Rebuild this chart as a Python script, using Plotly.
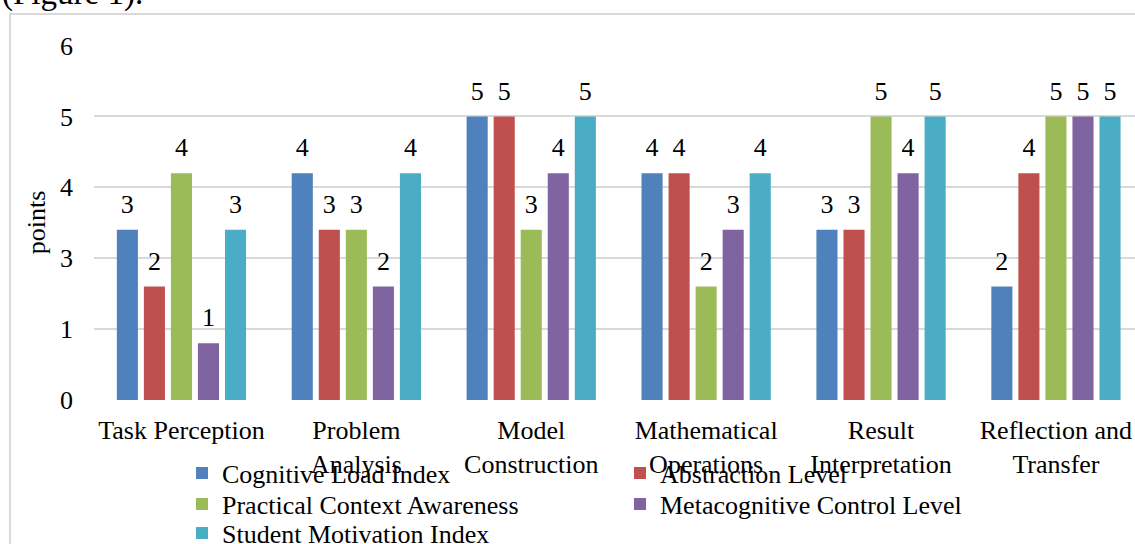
import plotly.graph_objects as go

# Stages of the modelling task (x categories)
categories = [
    "Task Perception",
    "Problem<br>Analysis",
    "Model<br>Construction",
    "Mathematical<br>Operations",
    "Result<br>Interpretation",
    "Reflection and<br>Transfer",
]

# Scores per indicator, one value per stage
cognitive_load = [3, 4, 5, 4, 3, 2]
abstraction = [2, 3, 5, 4, 3, 4]
practical_context = [4, 3, 3, 2, 5, 5]
metacognitive = [1, 2, 4, 3, 4, 5]
motivation = [3, 4, 5, 4, 5, 5]

series_names = [
    "Cognitive Load Index",
    "Abstraction Level",
    "Practical Context Awareness",
    "Metacognitive Control Level",
    "Student Motivation Index",
]
series_values = [cognitive_load, abstraction, practical_context, metacognitive, motivation]
colors = ["#4F81BD", "#C0504D", "#9BBB59", "#8064A2", "#4BACC6"]

# Value axis: major unit 1.25 with whole-number labels
y_tickvals = [0, 1.25, 2.5, 3.75, 5, 6.25]
y_ticktext = ["0", "1", "3", "4", "5", "6"]

FONT = "Liberation Serif"
FS = 26

W, H = 1135, 544
ML, MR, MT, MB = 94, 0, 45, 144
PW = W - ML - MR
PH = H - MT - MB

legend_ids = ["legend", "legend2", "legend3", "legend4", "legend5"]

fig = go.Figure()

for name, vals, col, lg in zip(series_names, series_values, colors, legend_ids):
    fig.add_trace(go.Bar(
        x=categories, y=vals, name=name,
        marker=dict(color=col, line=dict(width=0)),
        legend=lg, hoverinfo="x+y+name",
    ))

# value labels above each bar, grouped like the bars
for name, vals in zip(series_names, series_values):
    fig.add_trace(go.Scatter(
        x=categories, y=vals, mode="markers+text", orientation="v",
        text=[str(v) for v in vals], textposition="top center",
        textfont=dict(family=FONT, size=FS, color="black"),
        marker=dict(size=15, opacity=0),
        showlegend=False, hoverinfo="skip", cliponaxis=False,
    ))


def px_x(p):
    return (p - ML) / PW


def px_y(p):
    return (H - MB - p) / PH


legend_common = dict(
    font=dict(family=FONT, size=FS, color="black"),
    bgcolor="rgba(0,0,0,0)", borderwidth=0,
    xanchor="left", yanchor="middle", itemwidth=30,
    orientation="v", itemclick=False, itemdoubleclick=False,
)
col_x = [182, 620]
row_y = [473, 504, 533]
slots = [(0, 0), (1, 0), (0, 1), (1, 1), (0, 2)]
legends = {}
for lg, (c, r) in zip(legend_ids, slots):
    legends[lg] = dict(legend_common, x=px_x(col_x[c]), y=px_y(row_y[r]))

fig.update_layout(
    width=W, height=H,
    margin=dict(l=ML, r=MR, t=MT, b=MB, autoexpand=False),
    paper_bgcolor="white", plot_bgcolor="white",
    font=dict(family=FONT, size=FS, color="black"),
    barmode="group", bargap=0.227, bargroupgap=0.22,
    scattermode="group", scattergap=0.227,
    **legends,
)

fig.update_xaxes(
    type="category",
    range=[-0.5, 5.452],
    showgrid=False, zeroline=False, showline=False,
    ticks="", ticklabelstandoff=12,
    tickfont=dict(family=FONT, size=FS, color="black"),
    automargin=False,
)
fig.update_yaxes(
    range=[0, 6.26],
    tickmode="array", tickvals=y_tickvals, ticktext=y_ticktext,
    showgrid=True, gridcolor="#D9D9D9", gridwidth=2,
    zeroline=False, showline=False, ticks="", ticklabelstandoff=20,
    tickfont=dict(family=FONT, size=FS, color="black"),
    title=dict(text="points", font=dict(family=FONT, size=FS, color="black"), standoff=6),
    automargin=False,
)

# chart frame
fig.add_shape(
    type="rect", xref="paper", yref="paper",
    x0=px_x(10), x1=px_x(1160), y0=px_y(560), y1=px_y(14),
    line=dict(color="#D9D9D9", width=2), fillcolor="rgba(0,0,0,0)", layer="below",
)

# caption line of the surrounding text
fig.add_annotation(
    text="(Figure 1).", xref="paper", yref="paper",
    x=px_x(0), y=px_y(14), xanchor="left", yanchor="bottom",
    showarrow=False, font=dict(family=FONT, size=33, color="black"),
)

fig.write_html("out.html")
